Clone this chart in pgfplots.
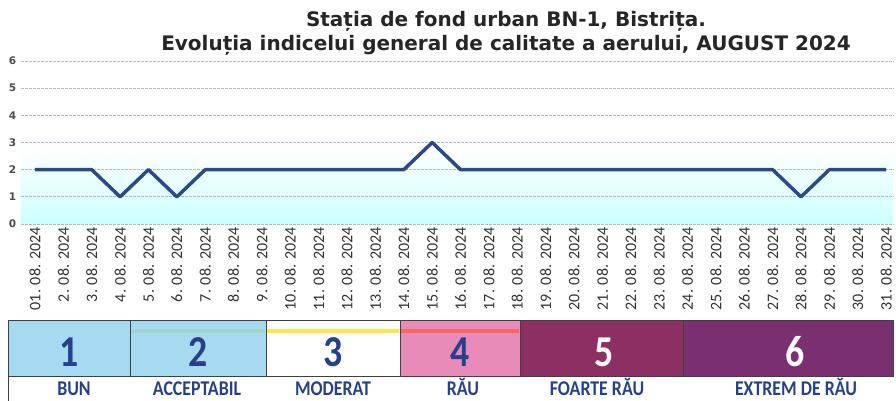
\documentclass[border=0pt]{standalone}
\usepackage{pgfplots}
\pgfplotsset{compat=1.18}
\usepackage{pgfplotstable}
\usepackage{fontspec}
\setmainfont{Carlito}
\newfontfamily\titlefont{DejaVu Sans}
\definecolor{lineblue}{HTML}{2B4A8C}
\definecolor{boxA}{HTML}{A6DAF1}
\definecolor{boxD}{HTML}{E98BB9}
\definecolor{boxE}{HTML}{8C2F63}
\definecolor{boxF}{HTML}{7A2F70}
\definecolor{numblue}{HTML}{27408B}
\definecolor{gridc}{HTML}{B4B8C8}
\pgfplotstableread{
d v
1 2
2 2
3 2
4 1
5 2
6 1
7 2
8 2
9 2
10 2
11 2
12 2
13 2
14 2
15 3
16 2
17 2
18 2
19 2
20 2
21 2
22 2
23 2
24 2
25 2
26 2
27 2
28 1
29 2
30 2
31 2
}\datatable
\begin{document}
\begin{tikzpicture}[x=1pt,y=1pt]
\begin{axis}[
  at={(20.8pt,177pt)}, anchor=south west,
  scale only axis, width=872.4pt, height=163pt,
  set layers,
  xmin=0.5, xmax=31.25, ymin=0, ymax=6,
  axis line style={draw=none}, tick style={draw=none},
  ytick={0,...,6},
  /pgf/number format/assume math mode=true,
  ymajorgrids, grid style={gridc, line width=0.7pt, dash pattern=on 3pt off 1pt},
  yticklabel style={font=\titlefont\bfseries\fontsize{10.5}{10.5}\selectfont, text=black!70, xshift=-1pt},
  xtick={1,...,31},
  xticklabels={01. 08. 2024,2. 08. 2024,3. 08. 2024,4. 08. 2024,5. 08. 2024,6. 08. 2024,7. 08. 2024,8. 08. 2024,9. 08. 2024,10. 08. 2024,11. 08. 2024,12. 08. 2024,13. 08. 2024,14. 08. 2024,15. 08. 2024,16. 08. 2024,17. 08. 2024,18. 08. 2024,19. 08. 2024,20. 08. 2024,21. 08. 2024,22. 08. 2024,23. 08. 2024,24. 08. 2024,25. 08. 2024,26. 08. 2024,27. 08. 2024,28. 08. 2024,29. 08. 2024,30. 08. 2024,31. 08. 2024},
  xticklabel style={rotate=90, anchor=east, font=\fontsize{16}{16}\selectfont, text=black!80},
]
\begin{pgfonlayer}{axis background}
\path[top color=white, bottom color=cyan!20] (axis cs:0.5,0) rectangle (axis cs:31.25,2.8);
\end{pgfonlayer}
\addplot[lineblue, line width=3.5pt, line join=round] table[x=d,y=v]{\datatable};
\end{axis}
% titles
\node[font=\titlefont\bfseries\fontsize{20}{20}\selectfont, text=black!85, anchor=base] at (506,374) {Stația de fond urban BN-1, Bistrița.};
\node[font=\titlefont\bfseries\fontsize{20}{20}\selectfont, text=black!85, anchor=base] at (506,350) {Evoluția indicelui general de calitate a aerului, AUGUST 2024};
% legend band
\fill[boxA] (8,25) rectangle (130,81);
\fill[boxA] (130,25) rectangle (266,81);
\fill[white] (266,25) rectangle (400,81);
\fill[boxD] (400,25) rectangle (520,81);
\fill[boxE] (520,25) rectangle (683,81);
\fill[boxF] (683,25) rectangle (893,81);
\fill[green!45!cyan!60!black!40, opacity=0.6] (131,68) rectangle (265,72);
\fill[yellow!80!orange!70] (267,68) rectangle (399,72);
\fill[red!70!orange!80, opacity=0.6] (401,68) rectangle (519,72);
\draw[black!75, line width=0.8pt] (8,25) rectangle (893,81);
\foreach \xx in {130,266,400,520,683} \draw[black!75, line width=0.8pt] (\xx,25) -- (\xx,81);
\draw[black!75, line width=0.8pt] (8,25) -- (8,0);
\begin{scope}[every node/.style={font=\bfseries\fontsize{42}{42}\selectfont, yscale=1.05, xscale=0.9}]
\node[text=numblue] at (69,49) {1};
\node[text=numblue] at (198,49) {2};
\node[text=numblue] at (333,49) {3};
\node[text=numblue] at (460,49) {4};
\node[text=white!90!pink] at (604,49) {5};
\node[text=white!90!pink] at (795,49) {6};
\end{scope}
\begin{scope}[every node/.style={font=\bfseries\fontsize{21}{21}\selectfont, text=numblue, xscale=0.85, anchor=base}]
\node at (74,5) {BUN};
\node at (197,5) {ACCEPTABIL};
\node at (333,5) {MODERAT};
\node at (463,5) {RĂU};
\node at (597,5) {FOARTE RĂU};
\node at (796,5) {EXTREM DE RĂU};
\end{scope}
\pgfresetboundingbox
\path[use as bounding box] (0,0) rectangle (896,401);
\end{tikzpicture}
\end{document}
